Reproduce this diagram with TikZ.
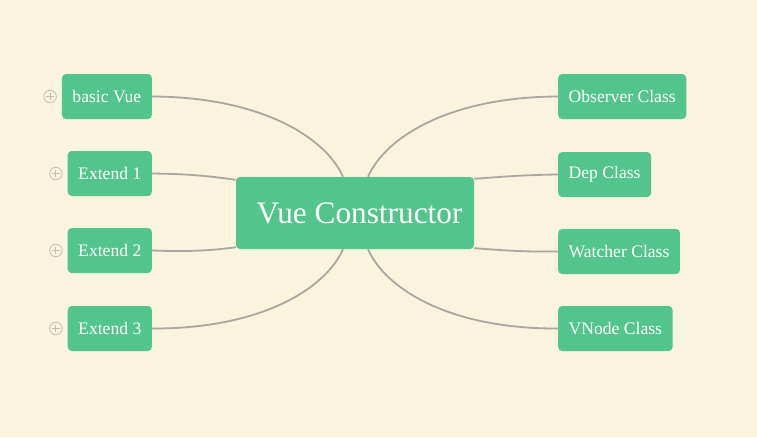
\documentclass[tikz,border=0pt]{standalone}
\usepackage{fontspec}
\setmainfont{Liberation Serif}
\usetikzlibrary{positioning,calc}
\definecolor{paper}{RGB}{250,243,221}
\definecolor{vuegreen}{RGB}{82,196,140}
\definecolor{linkgray}{RGB}{170,166,160}
\definecolor{icongray}{RGB}{196,190,176}

\begin{document}
\begin{tikzpicture}[x=1pt,y=-1pt,
  topic/.style={fill=vuegreen, text=white, rounded corners=4pt, minimum height=45pt, inner xsep=10.5pt, inner ysep=0pt, font=\fontsize{17.6}{20}\selectfont},
  hub/.style={fill=vuegreen, text=white, rounded corners=4pt, minimum height=72pt, minimum width=238pt, font=\fontsize{31.3}{34}\selectfont},
  link/.style={draw=linkgray, line width=1.8pt},
  expander/.style={circle, draw=icongray, line width=0.8pt, minimum size=12.5pt, inner sep=0pt}]
\fill [paper] (0,0) rectangle (757,437);
\useasboundingbox (0,0) rectangle (757,437);

% centre
\node (ctr) [hub] at (355,213) {\hspace*{9pt}Vue Constructor};

% left side
\node (basic) [topic, anchor=east] at (152,96.5) {basic Vue};
\node (ext1) [topic, anchor=east] at (152,173.5) {Extend 1};
\node (ext2) [topic, anchor=east] at (152,250.5) {Extend 2};
\node (ext3) [topic, anchor=east] at (152,328.5) {Extend 3};

% right side
\node (observer) [topic, anchor=west] at (558,96.5) {Observer Class};
\node (dep) [topic, anchor=west] at (558,174.5) {Dep Class};
\node (watcher) [topic, anchor=west] at (558,251.5) {Watcher Class};
\node (vnode) [topic, anchor=west] at (558,328.5) {VNode Class};

% expand marks
\foreach \n in {basic,ext1,ext2,ext3}{
  \node (plus-\n) [expander, left=5pt of \n] {};
  \draw [icongray, line width=0.8pt] ([xshift=3pt]plus-\n.west) -- ([xshift=-3pt]plus-\n.east)
        ([yshift=-3pt]plus-\n.north) -- ([yshift=3pt]plus-\n.south);
}

% links
\draw [link] (basic.east) .. controls (262,97) and (326,138) .. ($(ctr.north)+(-12,0)$);
\draw [link] (ext1.east) .. controls (195,174) and (215,177) .. ($(ctr.north west)+(0,3)$);
\draw [link] (ext2.east) .. controls (195,252) and (215,250) .. ($(ctr.south west)+(0,-2)$);
\draw [link] (ext3.east) .. controls (262,329) and (326,288) .. ($(ctr.south)+(-12,0)$);
\draw [link] (observer.west) .. controls (448,97) and (385,138) .. ($(ctr.north)+(13,0)$);
\draw [link] (dep.west) .. controls (520,175) and (500,177) .. ($(ctr.north east)+(0,2)$);
\draw [link] (watcher.west) .. controls (520,252) and (500,250) .. ($(ctr.south east)+(0,-1)$);
\draw [link] (vnode.west) .. controls (448,329) and (385,288) .. ($(ctr.south)+(13,0)$);
\end{tikzpicture}
\end{document}
